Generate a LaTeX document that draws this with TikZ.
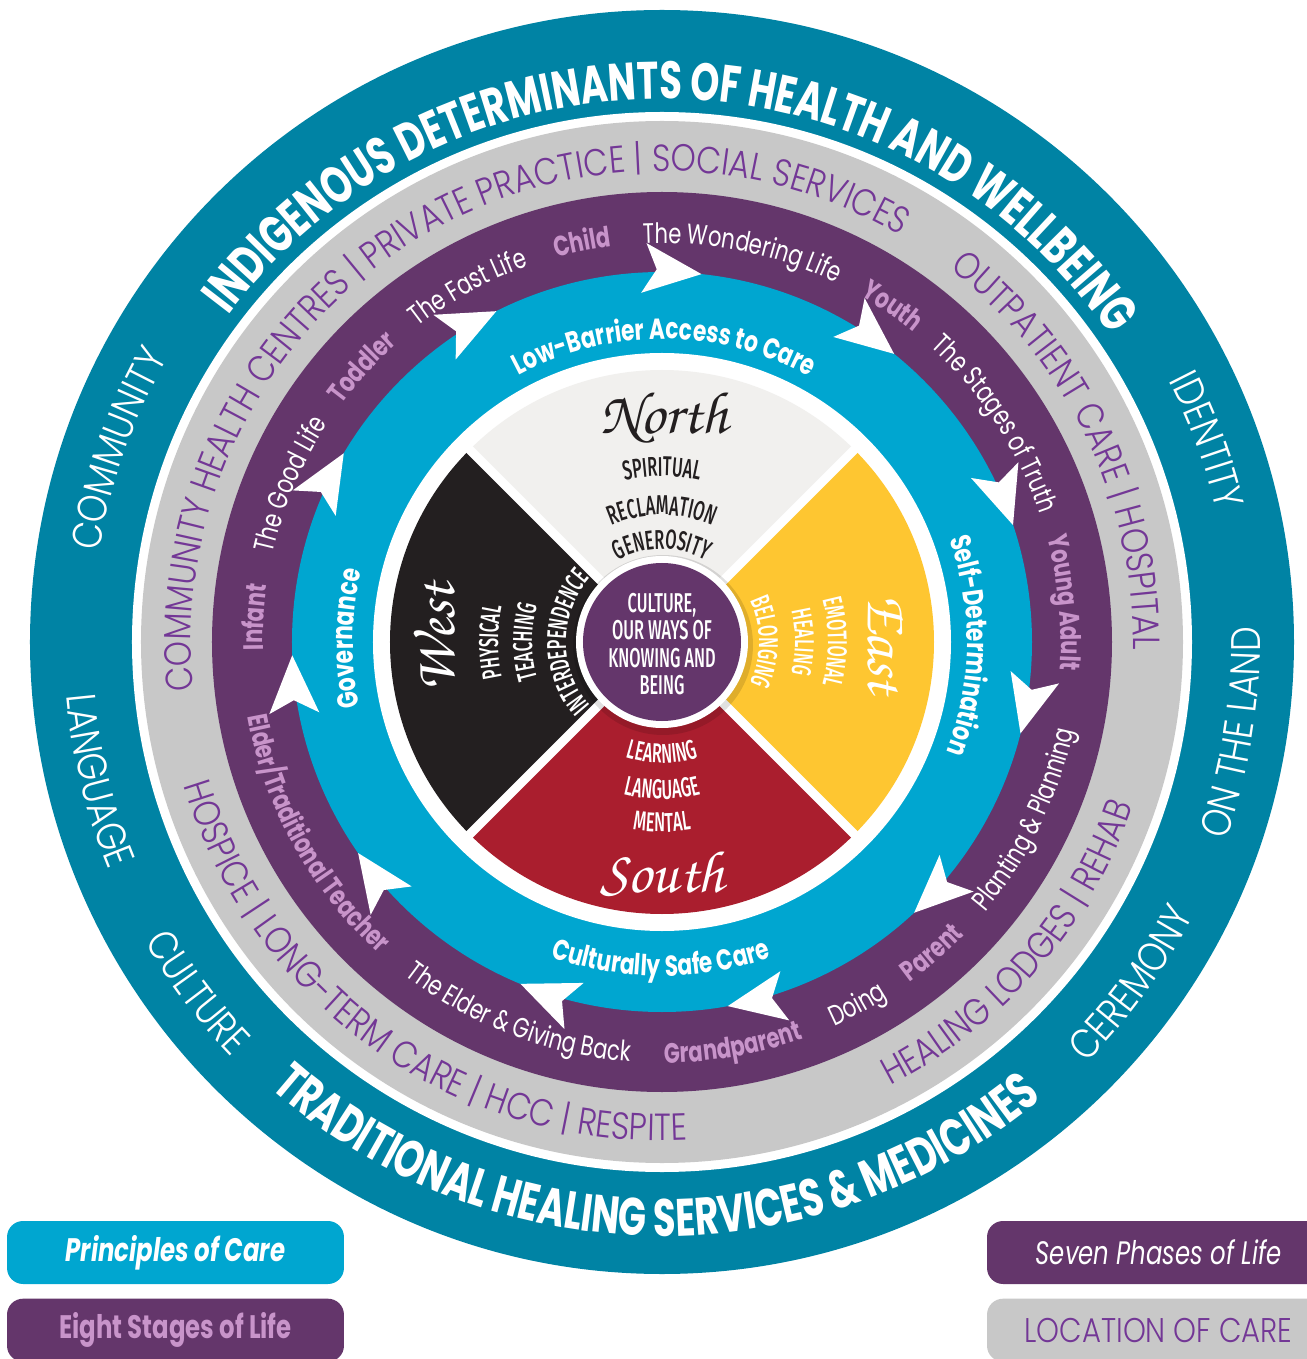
\documentclass[tikz,border=0pt]{standalone}
\usepackage{fontspec}
\usepackage{tikz}
\usetikzlibrary{decorations.text,positioning}

\setmainfont{Poppins}
\newfontfamily\headfont{Poppins}[FakeStretch=0.7]
\newfontfamily\ringfont{Poppins}[FakeStretch=0.75]
\IfFontExistsTF{Poppins Light}
  {\newfontfamily\thinfont{Poppins Light}[FakeStretch=0.85]}
  {\newfontfamily\thinfont{Poppins}[FakeStretch=0.85]}
\IfFontExistsTF{Fira Sans Medium}
  {\newfontfamily\condfont{Fira Sans Medium}[FakeStretch=0.6]}
  {\newfontfamily\condfont{Fira Sans}[FakeStretch=0.6,FakeBold=1]}
\IfFontExistsTF{TeX Gyre Chorus}
  {\newfontfamily\handfont{TeX Gyre Chorus}}
  {\newfontfamily\handfont{DejaVu Serif}[FakeSlant=0.25]}

\definecolor{tealring}{RGB}{0,131,164}
\definecolor{greyring}{RGB}{200,200,200}
\definecolor{purplering}{RGB}{100,54,107}
\definecolor{cyanring}{RGB}{0,166,208}
\definecolor{lilac}{RGB}{200,148,202}
\definecolor{locpurple}{RGB}{115,55,150}
\definecolor{northgrey}{RGB}{241,240,238}
\definecolor{eastyellow}{RGB}{254,198,49}
\definecolor{southred}{RGB}{170,30,46}
\definecolor{westblack}{RGB}{35,31,32}

\newcommand\headsty{\color{white}\headfont\bfseries\fontsize{30}{30}\selectfont}
\newcommand\wordsty{\color{white}\thinfont\fontsize{23.5}{23.5}\selectfont}
\newcommand\locsty{\color{locpurple}\thinfont\fontsize{21.5}{21.5}\selectfont}
\newcommand\phasesty{\color{white}\ringfont\fontsize{16}{16}\selectfont}
\newcommand\stagesty{\color{lilac}\ringfont\bfseries\fontsize{16}{16}\selectfont}
\newcommand\princsty{\color{white}\ringfont\bfseries\fontsize{16.5}{16.5}\selectfont}
\newcommand\dirsty{\condfont\fontsize{15.5}{15.5}\selectfont}

\newcommand\arctext[5]{%
  \path[decorate,decoration={text along path,text align=center,text={|#4|#5}}]
    ({#2+(#3)}:#1) arc[start angle={#2+(#3)},end angle={#2-(#3)},radius=#1];}

\begin{document}
\begin{tikzpicture}[x=0.02cm,y=0.02cm,
  legend/.style={minimum width=6.74cm,minimum height=1.26cm,rounded corners=0.32cm,inner sep=0pt},
  hand/.style={font=\handfont\fontsize{34}{34}\selectfont}]
\fill[white] (-662,-717) rectangle (645,642);
\useasboundingbox (-662,-717) rectangle (645,642);

\fill[tealring] (0,0) circle[radius=632];
\fill[white] (0,0) circle[radius=530];
\fill[greyring] (0,0) circle[radius=521];
\fill[purplering] (0,0) circle[radius=450];
\fill[cyanring] (0,0) circle[radius=370];
\fill[white] (0,0) circle[radius=289];
\foreach \c/\s in {eastyellow/-45,northgrey/45,westblack/135,southred/225}
  \fill[\c] (0,0) -- (\s:272) arc[start angle=\s,delta angle=90,radius=272] -- cycle;
\foreach \t in {45,135,225,315}
  \draw[white,line width=0.18cm] (0,0) -- (\t:276);
\fill[black,opacity=0.12] (1,-3) circle[radius=90];
\fill[white] (0,0) circle[radius=86];
\fill[purplering] (0,0) circle[radius=79];

\foreach \k in {0,...,10}{
  \pgfmathsetmacro\ang{116.6-\k*360/11}
  \fill[white,shift={(\ang:370)},rotate=\ang-90] (0,0) -- (-58,25) -- (-45,0) -- (-58,-25) -- cycle;
}

\arctext{543}{88.7}{85}{\headsty}{INDIGENOUS DETERMINANTS OF HEALTH AND WELLBEING}
\arctext{594}{269.3}{-70}{\headsty}{TRADITIONAL HEALING SERVICES {\&} MEDICINES}
\arctext{570}{160.5}{30}{\wordsty}{COMMUNITY}
\arctext{598}{193.8}{-30}{\wordsty}{LANGUAGE}
\arctext{598}{217}{-30}{\wordsty}{CULTURE}
\arctext{570}{20.3}{30}{\wordsty}{IDENTITY}
\arctext{598}{-9}{-30}{\wordsty}{ON THE LAND}
\arctext{598}{-36}{-30}{\wordsty}{CEREMONY}

\arctext{471}{122.75}{80}{\locsty}{COMMUNITY HEALTH CENTRES {\textbar} PRIVATE PRACTICE {\textbar} SOCIAL SERVICES}
\arctext{471}{25.7}{40}{\locsty}{OUTPATIENT CARE {\textbar} HOSPITAL}
\arctext{499}{-41}{-40}{\locsty}{HEALING LODGES {\textbar} REHAB}
\arctext{499}{234.8}{-60}{\locsty}{HOSPICE {\textbar} LONG-TERM CARE {\textbar} HCC {\textbar} RESPITE}

\arctext{399}{176.5}{20}{\stagesty}{Infant}
\arctext{399}{157}{25}{\phasesty}{The Good Life}
\arctext{399}{137.5}{20}{\stagesty}{Toddler}
\arctext{399}{118.7}{25}{\phasesty}{The Fast Life}
\arctext{399}{101.3}{20}{\stagesty}{Child}
\arctext{399}{78.4}{30}{\phasesty}{The Wondering Life}
\arctext{399}{55.5}{20}{\stagesty}{Youth}
\arctext{399}{33.2}{30}{\phasesty}{The Stages of Truth}
\arctext{399}{5.6}{20}{\stagesty}{Young Adult}
\arctext{421}{209}{-40}{\stagesty}{Elder/Traditional Teacher}
\arctext{421}{249}{-40}{\phasesty}{The Elder {\&} Giving Back}
\arctext{421}{280}{-20}{\stagesty}{Grandparent}
\arctext{421}{298.3}{-15}{\phasesty}{Doing}
\arctext{421}{311}{-15}{\stagesty}{Parent}
\arctext{421}{334}{-30}{\phasesty}{Planting {\&} Planning}

\arctext{303}{89.6}{60}{\princsty}{Low-Barrier Access to Care}
\arctext{305}{-0.7}{40}{\princsty}{Self-Determination}
\arctext{334}{269.8}{-40}{\princsty}{Culturally Safe Care}
\arctext{309}{179.4}{30}{\princsty}{Governance}

\arctext{166}{90}{40}{\color{westblack}\dirsty}{SPIRITUAL}
\arctext{127}{90}{50}{\color{westblack}\dirsty}{RECLAMATION}
\arctext{93}{90}{70}{\color{westblack}\dirsty}{GENEROSITY}
\arctext{166}{0}{40}{\color{white}\dirsty}{EMOTIONAL}
\arctext{133}{0}{45}{\color{white}\dirsty}{HEALING}
\arctext{97}{0}{60}{\color{white}\dirsty}{BELONGING}
\arctext{121}{270}{-60}{\color{white}\dirsty}{LEARNING}
\arctext{157}{270}{-45}{\color{white}\dirsty}{LANGUAGE}
\arctext{190}{270}{-40}{\color{white}\dirsty}{MENTAL}
\arctext{164}{180}{40}{\color{white}\dirsty}{PHYSICAL}
\arctext{130}{180}{45}{\color{white}\dirsty}{TEACHING}
\arctext{96}{180}{75}{\color{white}\dirsty}{INTERDEPENDENCE}

\node[hand,text=westblack] (north) at (2,224) {North};
\node[hand,text=white,rotate=-90] (east) at (224,-2) {East};
\node[hand,text=white] (south) at (0,-232) {South};
\node[hand,text=white,rotate=90] (west) at (-227,4) {West};
\node[align=center,text=white,font=\dirsty] (culture) at (0,-2) {CULTURE,\\OUR WAYS OF\\KNOWING AND\\BEING};

\node[legend,fill=cyanring,text=white,font=\ringfont\bfseries\itshape\fontsize{18.5}{18.5}\selectfont] (principles) at (-486.5,-610.5) {Principles of Care};
\node[legend,fill=purplering,text=lilac,font=\ringfont\bfseries\fontsize{18.5}{18.5}\selectfont,below=0.28cm of principles] (stages) {Eight Stages of Life};
\node[legend,minimum width=6.86cm,fill=purplering,text=white,font=\ringfont\itshape\fontsize{18.5}{18.5}\selectfont] (phases) at (496.5,-610.5) {Seven Phases of Life};
\node[legend,minimum width=6.86cm,fill=greyring,text=locpurple,font=\thinfont\fontsize{19.5}{19.5}\selectfont,below=0.28cm of phases] (location) {LOCATION OF CARE};
\end{tikzpicture}
\end{document}
